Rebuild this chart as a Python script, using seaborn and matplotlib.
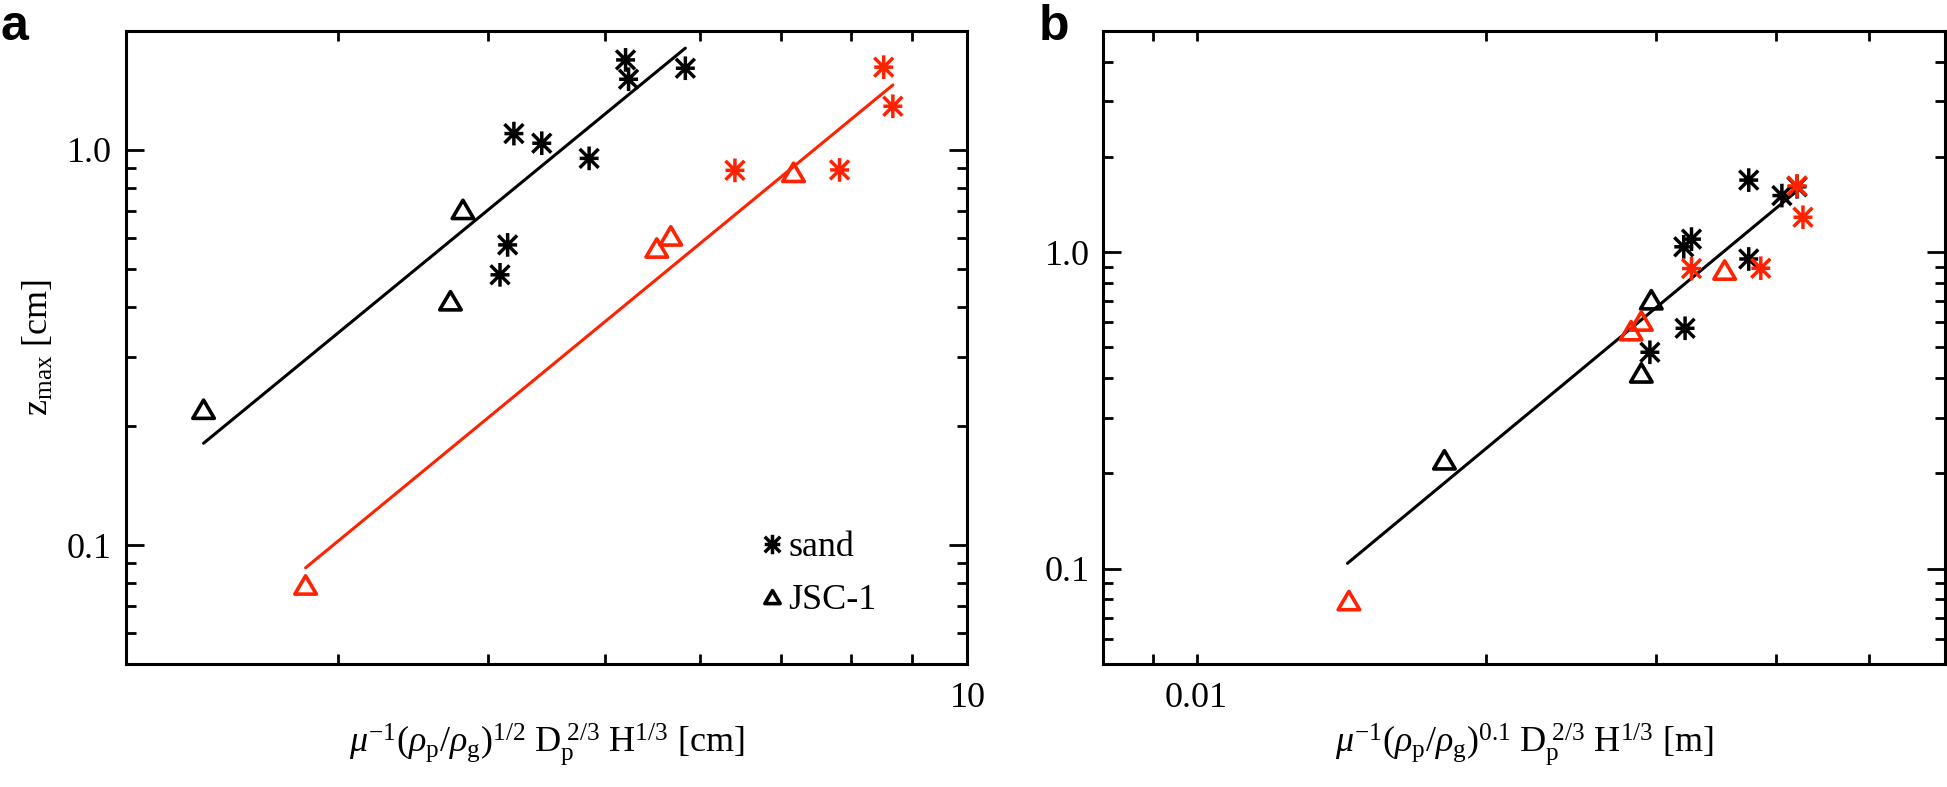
import matplotlib
matplotlib.use('Agg')
import matplotlib.pyplot as plt
import seaborn as sns
from matplotlib.path import Path
from matplotlib.lines import Line2D
from matplotlib.ticker import LogLocator, FuncFormatter, NullFormatter

# z_max [cm] (same in both panels), x for panel a [cm] and panel b [m]
sand_blk_z = [1.69, 1.51, 1.61, 1.10, 1.04, 0.952, 0.575, 0.483]
sand_blk_xa = [5.20, 5.23, 5.83, 4.20, 4.43, 4.85, 4.15, 4.09]
sand_blk_xb = [0.0375, 0.0406, 0.0421, 0.0327, 0.0321, 0.0375, 0.0322, 0.0296]

jsc_blk_z = [0.705, 0.414, 0.220]
jsc_blk_xa = [3.81, 3.72, 2.32]
jsc_blk_xb = [0.0297, 0.0290, 0.0181]

sand_red_z = [1.62, 1.29, 0.888, 0.890]
sand_red_xa = [8.52, 8.67, 6.41, 7.83]
sand_red_xb = [0.0421, 0.0427, 0.0327, 0.0386]

jsc_red_z = [0.563, 0.604, 0.875, 0.079]
jsc_red_xa = [5.52, 5.67, 7.17, 2.82]
jsc_red_xb = [0.0283, 0.0290, 0.0354, 0.0144]

# fitted lines (end points)
fit_a_blk_x = [2.32, 5.83]
fit_a_blk_z = [0.181, 1.81]
fit_a_red_x = [2.82, 8.67]
fit_a_red_z = [0.0876, 1.46]
fit_b_x = [0.01435, 0.0427]
fit_b_z = [0.104, 1.62]

RED = '#ff2200'

sns.set_style('ticks')
plt.rcParams['font.family'] = ['Liberation Serif', 'DejaVu Serif']
plt.rcParams['mathtext.fontset'] = 'custom'
plt.rcParams['mathtext.rm'] = 'Liberation Serif'
plt.rcParams['mathtext.it'] = 'Liberation Serif:italic'
plt.rcParams['mathtext.bf'] = 'Liberation Serif:bold'
plt.rcParams['text.color'] = 'black'
plt.rcParams['axes.labelcolor'] = 'black'
plt.rcParams['xtick.color'] = 'black'
plt.rcParams['ytick.color'] = 'black'

# IDL style markers
asterisk = Path([(0, -1), (0, 1), (-0.8, 0), (0.8, 0),
                 (-0.8, -0.8), (0.8, 0.8), (-0.8, 0.8), (0.8, -0.8)],
                [Path.MOVETO, Path.LINETO] * 4)
triangle = Path([(-1, -0.8), (1, -0.8), (0, 0.9), (-1, -0.8)],
                [Path.MOVETO, Path.LINETO, Path.LINETO, Path.CLOSEPOLY])

fig = plt.figure(figsize=(19.47, 7.87), dpi=100)
ax_a = fig.add_axes([0.0647, 0.1563, 0.4322, 0.8043])
ax_b = fig.add_axes([0.5667, 0.1563, 0.4323, 0.8043])


def pts(ax, x, y, mk, col, s, lw):
    sns.scatterplot(x=x, y=y, marker=mk, s=s, color=col, facecolor='none',
                    edgecolor=col, linewidth=lw, ax=ax, zorder=3, legend=False)


def style(ax, xlim, ylim):
    ax.set_xscale('log')
    ax.set_yscale('log')
    ax.set_xlim(*xlim)
    ax.set_ylim(*ylim)
    ax.xaxis.set_major_locator(LogLocator(base=10, subs=(1.0,)))
    ax.xaxis.set_minor_locator(LogLocator(base=10, subs=range(2, 10)))
    ax.yaxis.set_major_locator(LogLocator(base=10, subs=(1.0,)))
    ax.yaxis.set_minor_locator(LogLocator(base=10, subs=range(2, 10)))
    ax.xaxis.set_major_formatter(FuncFormatter(lambda v, p: f'{v:g}'))
    ax.yaxis.set_major_formatter(FuncFormatter(lambda v, p: f'{v:.1f}'))
    ax.xaxis.set_minor_formatter(NullFormatter())
    ax.yaxis.set_minor_formatter(NullFormatter())
    ax.tick_params(which='both', direction='in', top=True, right=True,
                   width=2, labelsize=26, color='black')
    ax.tick_params(axis='x', which='both', length=7, pad=13)
    ax.tick_params(axis='y', which='major', length=13, pad=10)
    ax.tick_params(axis='y', which='minor', length=7)
    for sp in ax.spines.values():
        sp.set_linewidth(2.2)
        sp.set_color('black')
        sp.set_visible(True)
    ax.grid(False)


# panel a
sns.lineplot(x=fit_a_blk_x, y=fit_a_blk_z, color='black', linewidth=2.2, ax=ax_a)
sns.lineplot(x=fit_a_red_x, y=fit_a_red_z, color=RED, linewidth=2.2, ax=ax_a)
pts(ax_a, sand_blk_xa, sand_blk_z, asterisk, 'black', 290, 2.5)
pts(ax_a, jsc_blk_xa, jsc_blk_z, triangle, 'black', 240, 2.6)
pts(ax_a, sand_red_xa, sand_red_z, asterisk, RED, 290, 2.5)
pts(ax_a, jsc_red_xa, jsc_red_z, triangle, RED, 240, 2.6)
style(ax_a, (2, 10), (0.05, 2.0))
ax_a.set_xlabel(r'$\mu^{-1}(\rho_\mathrm{p}/\rho_\mathrm{g})^{1/2}\ \mathrm{D_p^{\ 2/3}\ H^{1/3}}$ [cm]',
                fontsize=26, labelpad=4)
ax_a.set_ylabel(r'$\mathrm{z_{max}}$ [cm]', fontsize=26, labelpad=8)

handles = [Line2D([], [], marker=asterisk, linestyle='', color='black', markersize=14,
                  markeredgewidth=2.5, markerfacecolor='none', label='sand'),
           Line2D([], [], marker=triangle, linestyle='', color='black', markersize=11,
                  markeredgewidth=2.6, markerfacecolor='none', label='JSC-1')]
ax_a.legend(handles=handles, loc='center left', bbox_to_anchor=(0.755, 0.142),
            frameon=False, fontsize=26, handlelength=0.6, handletextpad=0.15,
            labelspacing=0.55, borderpad=0, borderaxespad=0)

# panel b
sns.lineplot(x=fit_b_x, y=fit_b_z, color='black', linewidth=2.2, ax=ax_b)
pts(ax_b, sand_blk_xb, sand_blk_z, asterisk, 'black', 290, 2.5)
pts(ax_b, jsc_blk_xb, jsc_blk_z, triangle, 'black', 240, 2.6)
pts(ax_b, sand_red_xb, sand_red_z, asterisk, RED, 290, 2.5)
pts(ax_b, jsc_red_xb, jsc_red_z, triangle, RED, 240, 2.6)
style(ax_b, (0.008, 0.06), (0.05, 5.0))
ax_b.set_xlabel(r'$\mu^{-1}(\rho_\mathrm{p}/\rho_\mathrm{g})^{0.1}\ \mathrm{D_p^{\ 2/3}\ H^{1/3}}$ [m]',
                fontsize=26, labelpad=4)

fig.text(0.0, 0.949, 'a', fontsize=36, fontweight='bold', family='Liberation Sans',
         ha='left', va='baseline')
fig.text(0.5336, 0.949, 'b', fontsize=36, fontweight='bold', family='Liberation Sans',
         ha='left', va='baseline')

fig.savefig('out.png', dpi=100)
